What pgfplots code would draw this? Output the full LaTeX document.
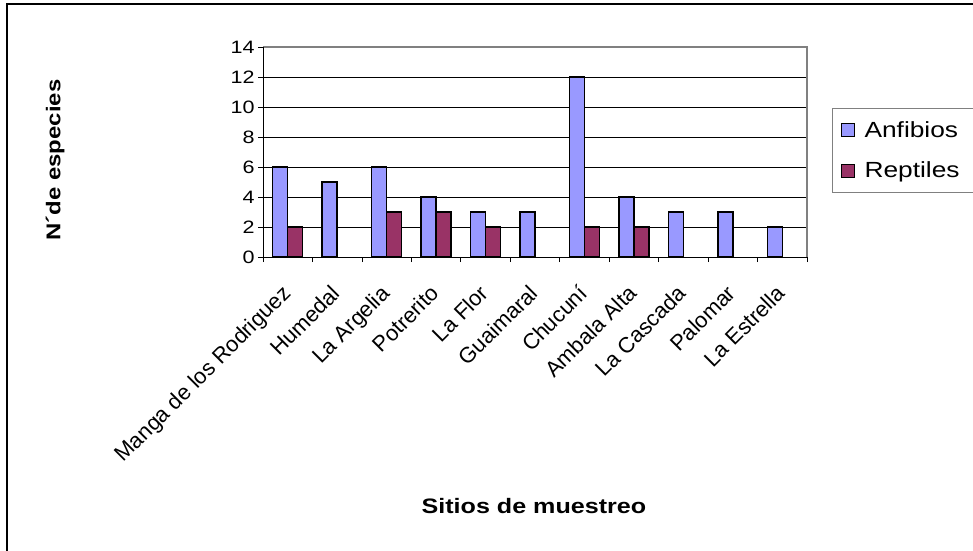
\documentclass[border=0pt]{standalone}
\usepackage{fontspec}
\setmainfont{Liberation Sans}[FakeStretch=1.2]
\newfontfamily\narrowfont{Liberation Sans}
\usepackage{pgfplots}
\pgfplotsset{compat=1.18}
\usetikzlibrary{calc}

\definecolor{anfib}{RGB}{153,153,255}
\definecolor{rept}{RGB}{153,51,102}
\definecolor{frameGray}{RGB}{128,128,128}

\pgfplotsset{
  sqlegend/.style={
    legend image code/.code={
      \draw[##1, line width=1bp, draw=black] (0bp,-6.5bp) rectangle (13bp,6.5bp);
    }
  }
}
\tikzset{sitio/.style={font=\narrowfont\fontsize{22}{22}\selectfont, rotate=45, anchor=north east, inner sep=1bp}}

\begin{document}
\begin{tikzpicture}
\useasboundingbox (0bp,0bp) rectangle (973bp,-551bp);
\fill[white] (0bp,0bp) rectangle (973bp,-551bp);
% outer chart frame
\draw[line width=2bp] (7bp,-551bp) -- (7bp,-4bp) -- (973bp,-4bp);

\begin{axis}[
  at={(263bp,-257bp)}, anchor=south west,
  scale only axis, width=544bp, height=210bp,
  xmin=-0.5, xmax=10.5, ymin=0, ymax=14,
  ybar=0pt, bar width=15bp,
  clip=false,
  /pgf/number format/assume math mode=true,
  axis line style={draw=none},
  tick pos=left, tick align=outside, major tick length=5bp,
  tick style={black, line width=0.8bp},
  ytick={0,2,...,14},
  ymajorgrids, grid style={black, line width=0.8bp},
  xtick={-0.5,0.5,...,10.5},
  xticklabels={},
  yticklabel style={font=\fontsize{18}{18}\selectfont},
  ylabel={N´de especies},
  ylabel style={font=\bfseries\fontsize{20}{20}\selectfont, at={(axis description cs:-0.382,0.462)}, anchor=center},
  xlabel={Sitios de muestreo},
  xlabel style={font=\bfseries\fontsize{21}{21}\selectfont, at={(axis description cs:0.498,-1.186)}, anchor=center},
  legend style={at={(axis description cs:1.046,0.7095)}, anchor=north west,
    draw=frameGray, line width=1bp, font=\fontsize{22}{22}\selectfont,
    inner xsep=8bp, inner ysep=11bp, row sep=19bp,
    /tikz/every odd column/.append style={column sep=8bp}},
  legend cell align=left,
]
\addplot[fill=anfib, draw=black, line width=1.5bp, sqlegend]
  coordinates {(0,6) (1,5) (2,6) (3,4) (4,3) (5,3) (6,12) (7,4) (8,3) (9,3) (10,2)};
\addlegendentry{\makebox[125bp][l]{Anfibios}}
\addplot[fill=rept, draw=black, line width=1.5bp, sqlegend]
  coordinates {(0,2) (2,3) (3,3) (4,2) (6,2) (7,2)};
\addlegendentry{\makebox[125bp][l]{Reptiles}}

% category names, slanted under each group
\node[sitio] at ($(axis cs:0,0)+(-7bp,-25bp)$) {Manga de los Rodriguez};
\node[sitio] at ($(axis cs:1,0)+(-7bp,-25bp)$) {Humedal};
\node[sitio] at ($(axis cs:2,0)+(-7bp,-25bp)$) {La Argelia};
\node[sitio] at ($(axis cs:3,0)+(-7bp,-25bp)$) {Potrerito};
\node[sitio] at ($(axis cs:4,0)+(-7bp,-25bp)$) {La Flor};
\node[sitio] at ($(axis cs:5,0)+(-7bp,-25bp)$) {Guaimaral};
\node[sitio] at ($(axis cs:6,0)+(-7bp,-25bp)$) {Chucuní};
\node[sitio] at ($(axis cs:7,0)+(-7bp,-25bp)$) {Ambala Alta};
\node[sitio] at ($(axis cs:8,0)+(-7bp,-25bp)$) {La Cascada};
\node[sitio] at ($(axis cs:9,0)+(-7bp,-25bp)$) {Palomar};
\node[sitio] at ($(axis cs:10,0)+(-7bp,-25bp)$) {La Estrella};

% plot area border
\draw[frameGray, line width=1.5bp] (rel axis cs:0,1) -- (rel axis cs:1,1) -- (rel axis cs:1,0);
\draw[black, line width=1bp] (rel axis cs:0,1) -- (rel axis cs:0,0) -- (rel axis cs:1,0);
\end{axis}
\end{tikzpicture}
\end{document}
